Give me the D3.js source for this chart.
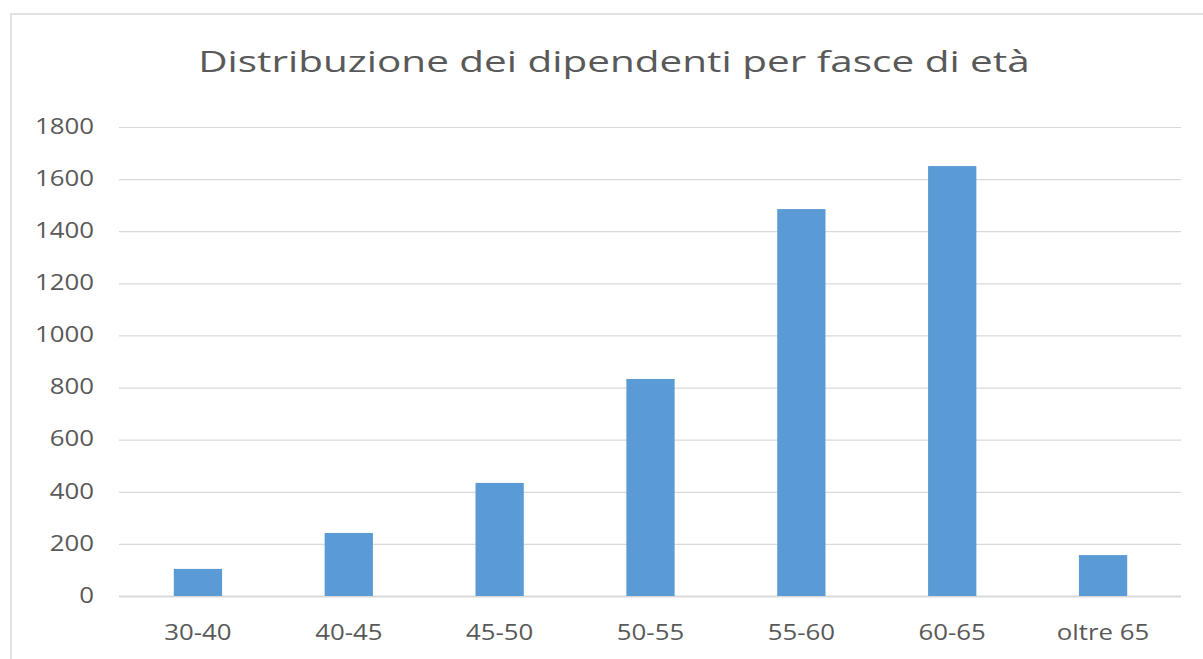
<!DOCTYPE html>
<html>
<head>
<meta charset="utf-8">
<script src="https://cdn.jsdelivr.net/npm/d3@7"></script>
<style>
  body { margin: 0; background: #fff; }
  text { font-family: "Open Sans", sans-serif; fill: #595959; }
</style>
</head>
<body>
<div id="chart"></div>
<script>
var title = "Distribuzione dei dipendenti per fasce di età";
var categories = ["30-40", "40-45", "45-50", "50-55", "55-60", "60-65", "oltre 65"];
var values = [104, 242, 434, 833, 1485, 1650, 157];
var yTicks = [0, 200, 400, 600, 800, 1000, 1200, 1400, 1600, 1800];

var width = 1203,
  height = 659,
  stretch = 1.23; // text in the reference is widened horizontally

var svg = d3.select("#chart")
  .append("svg")
  .attr("width", width)
  .attr("height", height);

svg.append("rect")
  .attr("width", width)
  .attr("height", height)
  .attr("fill", "#fff");

// chart frame (right and bottom edges are cut off)
svg.append("path")
  .attr("d", "M11,670 L11,14 L1215,14")
  .attr("fill", "none")
  .attr("stroke", "#d9d9d9")
  .attr("stroke-width", 1.5);

var y = d3.scaleLinear().domain([0, 1800]).range([596, 127]);
var x = d3.scaleBand()
  .domain(categories)
  .range([122.5, 1178.5])
  .paddingInner(0.68)
  .paddingOuter(0.34);

var gridLeft = 119, gridRight = 1181;

// y axis with gridlines
var yAxis = svg.append("g")
  .attr("transform", `translate(${gridLeft},0)`)
  .call(d3.axisLeft(y)
    .tickValues(yTicks)
    .tickFormat(d3.format("d"))
    .tickSize(-(gridRight - gridLeft))
    .tickPadding(0));

yAxis.select(".domain").remove();
yAxis.selectAll(".tick line")
  .attr("stroke", "#d9d9d9")
  .attr("stroke-width", d => d === 0 ? 1.8 : 1.2);
yAxis.selectAll(".tick text")
  .attr("x", 0)
  .attr("dy", "0.3em")
  .attr("transform", `translate(-25,0) scale(${stretch},1)`)
  .attr("font-size", 21)
  .attr("font-family", "'Open Sans', sans-serif")
  .attr("fill", "#595959");

// bars
svg.append("g")
  .selectAll("rect")
  .data(values)
  .join("rect")
  .attr("x", (d, i) => x(categories[i]))
  .attr("y", d => y(d))
  .attr("width", x.bandwidth())
  .attr("height", d => y(0) - y(d))
  .attr("fill", "#5b9bd5");

// x axis labels
var xAxis = svg.append("g")
  .attr("transform", `translate(0,${y(0)})`)
  .call(d3.axisBottom(x).tickSize(0));

xAxis.select(".domain").remove();
xAxis.selectAll(".tick text")
  .attr("y", 44)
  .attr("dy", 0)
  .attr("transform", `scale(${stretch},1)`)
  .attr("font-size", 21)
  .attr("font-family", "'Open Sans', sans-serif")
  .attr("fill", "#595959");

// title, widened to span the same width as in the reference
var titleText = svg.append("text")
  .attr("text-anchor", "middle")
  .attr("font-size", 29)
  .attr("fill", "#595959")
  .text(title);

var titleWidth = titleText.node().getComputedTextLength();
titleText.attr("transform", `translate(614,72) scale(${832 / titleWidth},1)`);
</script>
</body>
</html>
